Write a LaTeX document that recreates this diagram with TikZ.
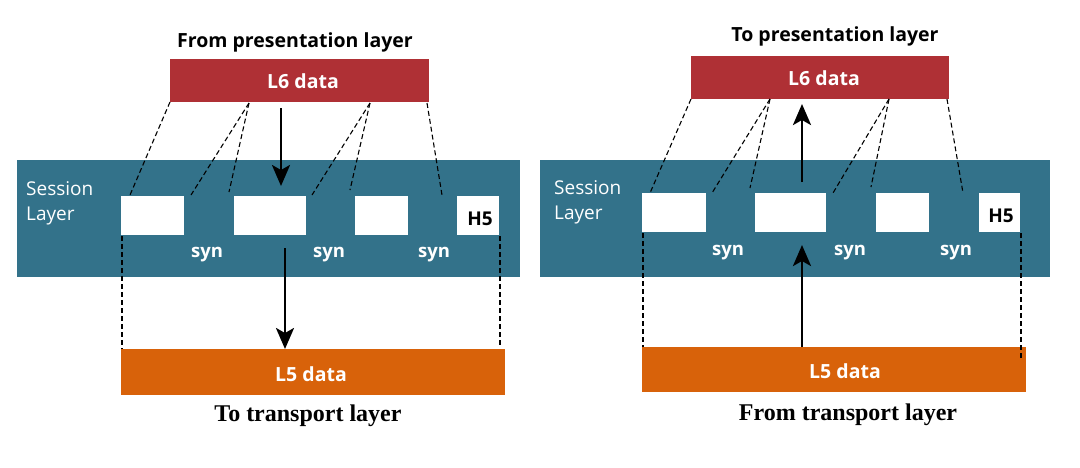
\documentclass[tikz,border=0pt]{standalone}
\usepackage{fontspec}
\setmainfont{Open Sans}
\newfontfamily\serifb{Liberation Serif}
\usetikzlibrary{arrows.meta}
\definecolor{redbox}{HTML}{AF3035}
\definecolor{tealband}{HTML}{33728A}
\definecolor{orangebox}{HTML}{D8620A}
\tikzset{
  blk/.style={anchor=north west,inner sep=0pt,outer sep=0pt,draw=none},
  whitebox/.style={blk,fill=white,minimum height=39pt},
  dline/.style={black,line width=1.1pt,dash pattern=on 5pt off 3pt},
  flow/.style={black,line width=2.8pt,-{Stealth[length=21pt,width=18pt,inset=5pt]}},
  wtext/.style={text=white,font=\fontsize{19.5}{22}\selectfont\bfseries,inner sep=0pt},
  syntext/.style={text=white,font=\fontsize{18.5}{22}\selectfont\bfseries,inner sep=0pt},
  sesstext/.style={text=white,font=\fontsize{19}{25}\selectfont,align=left,anchor=west,inner sep=0pt},
  h5text/.style={text=black,font=\fontsize{19}{22}\selectfont\bfseries,inner sep=0pt},
  title/.style={text=black,font=\fontsize{19.5}{23}\selectfont\bfseries,inner sep=0pt},
  stitle/.style={text=black,font=\fontsize{24}{27}\selectfont\serifb\bfseries,inner sep=0pt},
}
\begin{document}
\begin{tikzpicture}[x=1pt,y=-1pt]
\useasboundingbox (0,0) rectangle (1080,467);
% ---------------- left panel ----------------
\node[title] (tl) at (295,42) {From presentation layer};
\node[blk,fill=redbox,minimum width=259pt,minimum height=43pt] (l6l) at (170,59) {};
\node[wtext] (l6lt) at (303,81) {L6 data};
\node[blk,fill=tealband,minimum width=503pt,minimum height=117pt] (bandl) at (17,160) {};
\node[sesstext] (sessl) at (26,203) {Session\\Layer};
\node[whitebox,minimum width=63pt] (a1) at (121,196) {};
\node[whitebox,minimum width=72pt] (a2) at (234,196) {};
\node[whitebox,minimum width=53pt] (a3) at (355,196) {};
\node[whitebox,minimum width=42pt] (h5l) at (457,196) {};
\node[h5text] (h5lt) at (480,219) {H5};
\node[syntext] (s1l) at (207,255) {syn};
\node[syntext] (s2l) at (329,255) {syn};
\node[syntext] (s3l) at (434,255) {syn};
\node[blk,fill=orangebox,minimum width=384pt,minimum height=46pt] (l5l) at (121,349) {};
\node[wtext] (l5lt) at (311,374) {L5 data};
\node[stitle] (bl) at (308,416) {To transport layer};
% dashed fan lines
\coordinate (lp0) at (170,102);
\coordinate (lp1) at (249,103);
\coordinate (lp2) at (370,103);
\coordinate (lp3) at (427,103);
\coordinate (lq1) at (130,195);
\coordinate (lq2) at (191,195);
\coordinate (lq3) at (229,192);
\coordinate (lq4) at (312,195);
\coordinate (lq5) at (350,190);
\coordinate (lq6) at (442,195);
\draw[dline] (lp0) -- (lq1);
\draw[dline] (lp1) -- (lq2);
\draw[dline] (lp1) -- (lq3);
\draw[dline] (lp2) -- (lq4);
\draw[dline] (lp2) -- (lq5);
\draw[dline] (lp3) -- (lq6);
\coordinate (lv1) at (122,236);
\coordinate (lv2) at (122,349);
\coordinate (lv3) at (500,236);
\coordinate (lv4) at (500,345);
\draw[dline] (lv1) -- (lv2);
\draw[dline] (lv3) -- (lv4);
% arrows
\coordinate (la1) at (281,108);
\coordinate (la2) at (281,186);
\coordinate (la3) at (285,248);
\draw[flow] (la1) -- (la2);
\draw[flow] (la3) -- (l5l.north -| la3);
% ---------------- right panel ----------------
\node[title] (tr) at (835,36) {To presentation layer};
\node[blk,fill=redbox,minimum width=258pt,minimum height=43pt] (l6r) at (691,56) {};
\node[wtext] (l6rt) at (824,78) {L6 data};
\node[blk,fill=tealband,minimum width=510pt,minimum height=117pt] (bandr) at (540,160) {};
\node[sesstext] (sessr) at (554,202) {Session\\Layer};
\node[whitebox,minimum width=64pt] (b1) at (642,193) {};
\node[whitebox,minimum width=71pt] (b2) at (755,193) {};
\node[whitebox,minimum width=53pt] (b3) at (876,193) {};
\node[whitebox,minimum width=41pt] (h5r) at (979,193) {};
\node[h5text] (h5rt) at (1001,216) {H5};
\node[syntext] (s1r) at (728,253) {syn};
\node[syntext] (s2r) at (850,253) {syn};
\node[syntext] (s3r) at (956,253) {syn};
\node[blk,fill=orangebox,minimum width=384pt,minimum height=45pt] (l5r) at (642,347) {};
\node[wtext] (l5rt) at (845,371) {L5 data};
\node[stitle] (br) at (848,415) {From transport layer};
\coordinate (rp0) at (691,99);
\coordinate (rp1) at (770,99);
\coordinate (rp2) at (889,99);
\coordinate (rp3) at (947,99);
\coordinate (rq1) at (650,193);
\coordinate (rq2) at (712,193);
\coordinate (rq3) at (750,188);
\coordinate (rq4) at (833,193);
\coordinate (rq5) at (871,187);
\coordinate (rq6) at (963,193);
\draw[dline] (rp0) -- (rq1);
\draw[dline] (rp1) -- (rq2);
\draw[dline] (rp1) -- (rq3);
\draw[dline] (rp2) -- (rq4);
\draw[dline] (rp2) -- (rq5);
\draw[dline] (rp3) -- (rq6);
\coordinate (rv1) at (643,233);
\coordinate (rv2) at (643,347);
\coordinate (rv3) at (1021,233);
\coordinate (rv4) at (1021,360);
\draw[dline] (rv1) -- (rv2);
\draw[dline] (rv3) -- (rv4);
\coordinate (ra1) at (802,182);
\coordinate (ra2) at (802,104);
\coordinate (ra3) at (802,245);
\draw[flow] (ra1) -- (ra2);
\draw[flow] (l5r.north -| ra3) -- (ra3);
\end{tikzpicture}
\end{document}
